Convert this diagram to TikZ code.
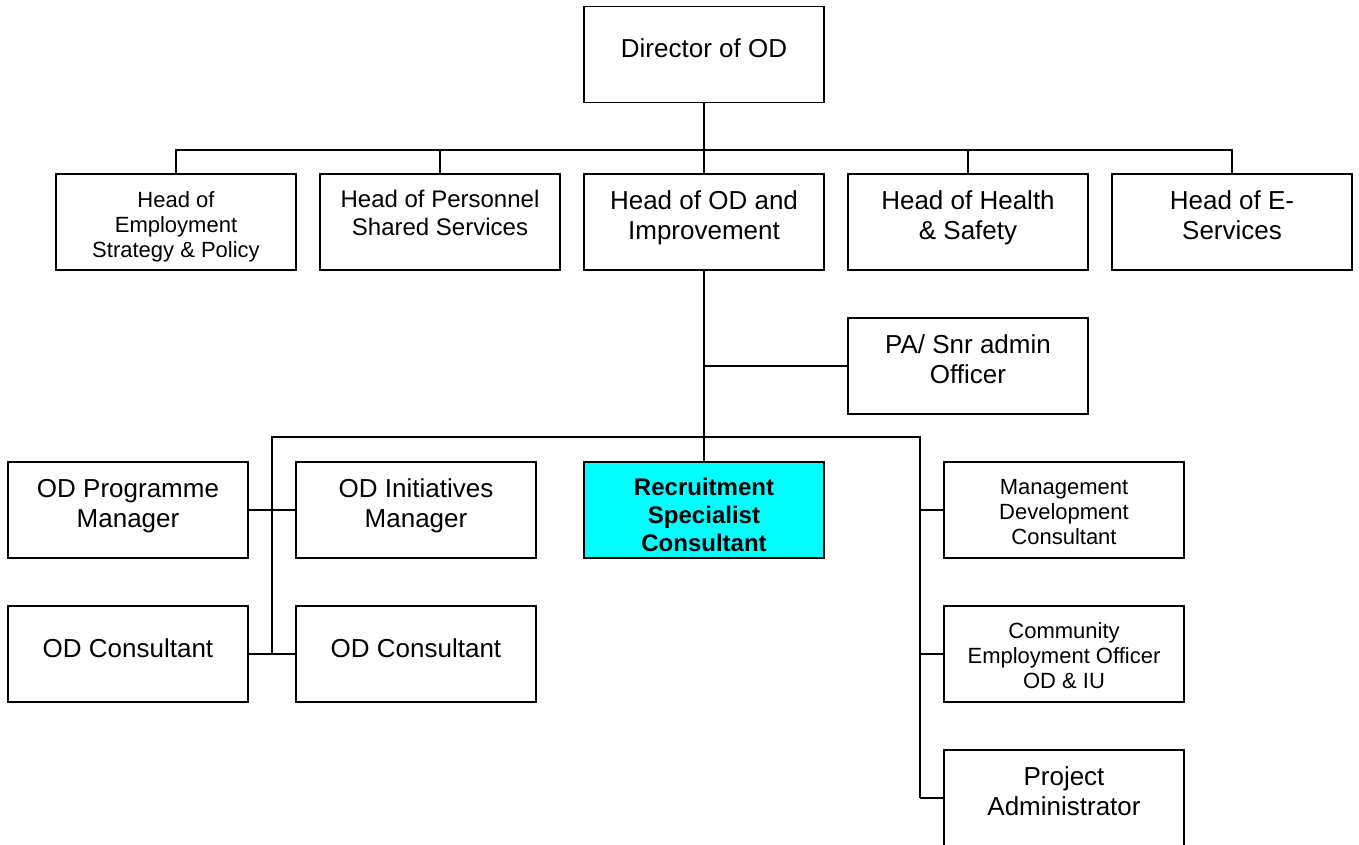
\documentclass[tikz,border=0pt]{standalone}
\usepackage{fontspec}
\setmainfont{Liberation Sans}
\definecolor{recfill}{RGB}{0,255,255}

\begin{document}
\begin{tikzpicture}[x=1pt, y=-1pt, node distance=264pt,
    post/.style={draw, line width=1.5pt, minimum width=240pt, minimum height=96pt,
                 inner sep=0pt, align=center, font=\fontsize{26}{30}\selectfont},
    small/.style={font=\fontsize{22}{25}\selectfont},
    mid/.style={font=\fontsize{24}{27.6}\selectfont, text height=30pt, text depth=4pt},
    bold/.style={font=\bfseries\fontsize{24}{27.6}\selectfont, fill=recfill, text height=86pt, text depth=4pt},
    oneline/.style={text height=20pt, text depth=13pt},
    twoline/.style={text height=40pt, text depth=6pt},
    threeline/.style={text height=73pt, text depth=4pt},
    empline/.style={text height=75pt, text depth=4pt},
    link/.style={line width=1.5pt}]
  \useasboundingbox (0,0) rectangle (1359,845);
  \clip (0,0) rectangle (1359,845);

  % top two levels
  \node[post, oneline] (dir) at (704,54.5) {Director of OD};
  \node[post, small, empline] (emp) at (176,222) {Head of\\Employment\\Strategy \& Policy};
  \node[post, mid, right of=emp] (pers) {Head of Personnel\\Shared Services};
  \node[post, twoline, right of=pers] (imp) {Head of OD and\\Improvement};
  \node[post, twoline, right of=imp] (hs) {Head of Health\\\& Safety};
  \node[post, twoline, right of=hs] (es) {Head of E-\\Services};

  % OD and improvement team
  \node[post, twoline] (pa) at (968,366) {PA/ Snr admin\\Officer};
  \node[post, bold] (rec) at (704,510) {Recruitment\\Specialist\\Consultant};
  \node[post, twoline] (progm) at (128,510) {OD Programme\\Manager};
  \node[post, twoline] (initm) at (416,510) {OD Initiatives\\Manager};
  \node[post, oneline] (cons1) at (128,654) {OD Consultant};
  \node[post, oneline] (cons2) at (416,654) {OD Consultant};
  \node[post, small, threeline] (mdc) at (1064,510) {Management\\Development\\Consultant};
  \node[post, small, threeline] (ceo) at (1064,654) {Community\\Employment Officer\\OD \& IU};
  \node[post, twoline] (padm) at (1064,798) {Project\\Administrator};

  \coordinate (bar) at (704,150);
  \coordinate (lspine) at (272,437);
  \coordinate (rspine) at (920,437);

  \draw[link] (dir) -- (imp);
  \draw[link] (emp.north) |- (bar) -| (es.north);
  \foreach \n in {pers, hs}
    \draw[link] (\n.north) -- (\n.north |- bar);
  \draw[link] (imp) -- (rec);
  \draw[link] (pa) -- (pa -| imp);
  \draw[link] (cons1 -| lspine) -- (lspine) -- (rspine) -- (padm -| rspine);
  \draw[link] (progm) -- (initm);
  \draw[link] (cons1) -- (cons2);
  \foreach \n in {mdc, ceo, padm}
    \draw[link] (\n) -- (\n -| rspine);
\end{tikzpicture}
\end{document}
